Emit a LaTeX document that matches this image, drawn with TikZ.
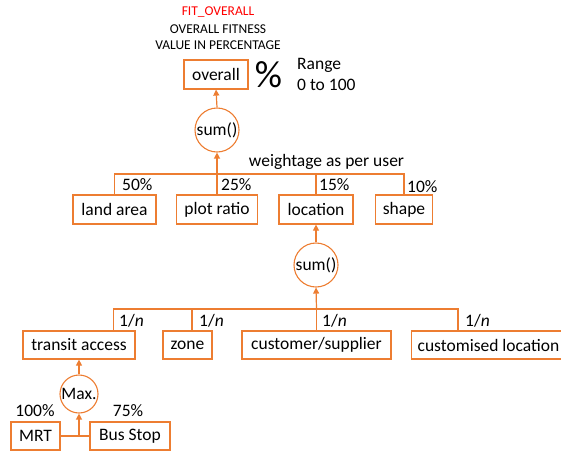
\documentclass[tikz,border=0pt]{standalone}
\usepackage{fontspec}
\setmainfont{Carlito}
\usetikzlibrary{arrows.meta}
\definecolor{orng}{HTML}{ED7D31}
\definecolor{fitred}{HTML}{FF0000}
\begin{document}
\begin{tikzpicture}[x=1pt,y=-1pt,
  box/.style={draw=orng,line width=1.2pt,minimum height=29pt,inner xsep=6pt,inner ysep=0pt,font=\fontsize{17.5}{20}\selectfont},
  rnd/.style={draw=orng,line width=1.1pt,circle,inner sep=0pt,minimum size=44pt,font=\fontsize{17.5}{20}\selectfont},
  lbl/.style={inner sep=0pt,font=\fontsize{17.5}{20}\selectfont},
  small/.style={inner sep=0pt,font=\fontsize{13.5}{16}\selectfont},
  conn/.style={draw=orng,line width=1.2pt},
  arr/.style={conn,-{Triangle[length=6pt,width=6pt]}}]
\useasboundingbox (0,0) rectangle (561,453);
% header texts
\node[small,text=fitred] (fit) at (218,12) {FIT\_OVERALL};
\node[small] (ofit) at (218,29) {OVERALL FITNESS};
\node[small] (vip) at (218,45) {VALUE IN PERCENTAGE};
\node[box,minimum width=64pt] (overall) at (216,74.5) {overall};
\node[inner sep=0pt,font=\fontsize{38}{40}\selectfont] (pct) at (268.5,74.5) {\%};
\node[lbl,anchor=west] (range) at (297,65) {Range};
\node[lbl,anchor=west] (rng) at (297,85) {0 to 100};
% first sum
\node[rnd] (sum1) at (217,130) {sum()};
\node[lbl] (wt) at (326.5,162) {weightage as per user};
\node[box,minimum width=83pt] (land) at (114.5,209.5) {land area};
\node[box,minimum width=81pt] (plot) at (217,209.5) {plot ratio};
\node[box,minimum width=74pt] (loc) at (316,209.5) {location};
\node[box,minimum width=57pt] (shape) at (404,209.5) {shape};
\coordinate (b1) at (217,174);
\draw[conn] (land.north) |- (b1) -| (shape.north);
\draw[conn] (plot.north) -- (b1);
\draw[conn] (loc.north) -- (loc.north |- b1);
\draw[arr] (b1) -- (sum1.south);
\draw[arr] (sum1.north) -- (overall.south);
\node[lbl,anchor=west] (p50) at (122,185) {50\%};
\node[lbl,anchor=west] (p25) at (221,185) {25\%};
\node[lbl,anchor=west] (p15) at (319,185) {15\%};
\node[lbl,anchor=west] (p10) at (407,187) {10\%};
% second sum
\node[rnd] (sum2) at (316,265) {sum()};
\draw[arr] (sum2.north) -- (loc.south);
\node[box,minimum width=112pt,minimum height=28pt] (transit) at (79,345) {transit access};
\node[box,minimum width=49pt,minimum height=28pt] (zone) at (187.5,345) {zone};
\node[box,minimum width=149pt,minimum height=28pt] (cust) at (316.5,345) {customer/supplier};
\node[box,minimum height=28pt,anchor=west] (custd) at (411,345) {customised location};
\coordinate (b2) at (316.5,309);
\draw[conn] ([xshift=-22pt]transit.north east) |- (b2) -| ([xshift=47pt]custd.north west);
\draw[conn] ([xshift=4.5pt]zone.north) -- ([xshift=4.5pt]zone.north |- b2);
\draw[conn] (cust.north) -- (b2);
\draw[arr] (b2) -- (sum2.south);
\node[lbl,anchor=west] (n1) at (119,321) {1/\textit{n}};
\node[lbl,anchor=west] (n2) at (199,321) {1/\textit{n}};
\node[lbl,anchor=west] (n3) at (322,321) {1/\textit{n}};
\node[lbl,anchor=west] (n4) at (465,321) {1/\textit{n}};
% max
\node[rnd,minimum size=38pt] (maxc) at (79,394) {Max.};
\draw[arr] (maxc.north) -- (transit.south);
\node[box,minimum width=49pt,minimum height=28pt] (mrt) at (35.5,436) {MRT};
\node[box,minimum width=80pt,minimum height=28pt] (bus) at (130,436) {Bus Stop};
\coordinate (j) at (79,436);
\draw[conn] (mrt.east) -- (bus.west);
\draw[arr] (j) -- (maxc.south);
\node[lbl] (p100) at (35,411) {100\%};
\node[lbl] (p75) at (128,411) {75\%};
\end{tikzpicture}
\end{document}
